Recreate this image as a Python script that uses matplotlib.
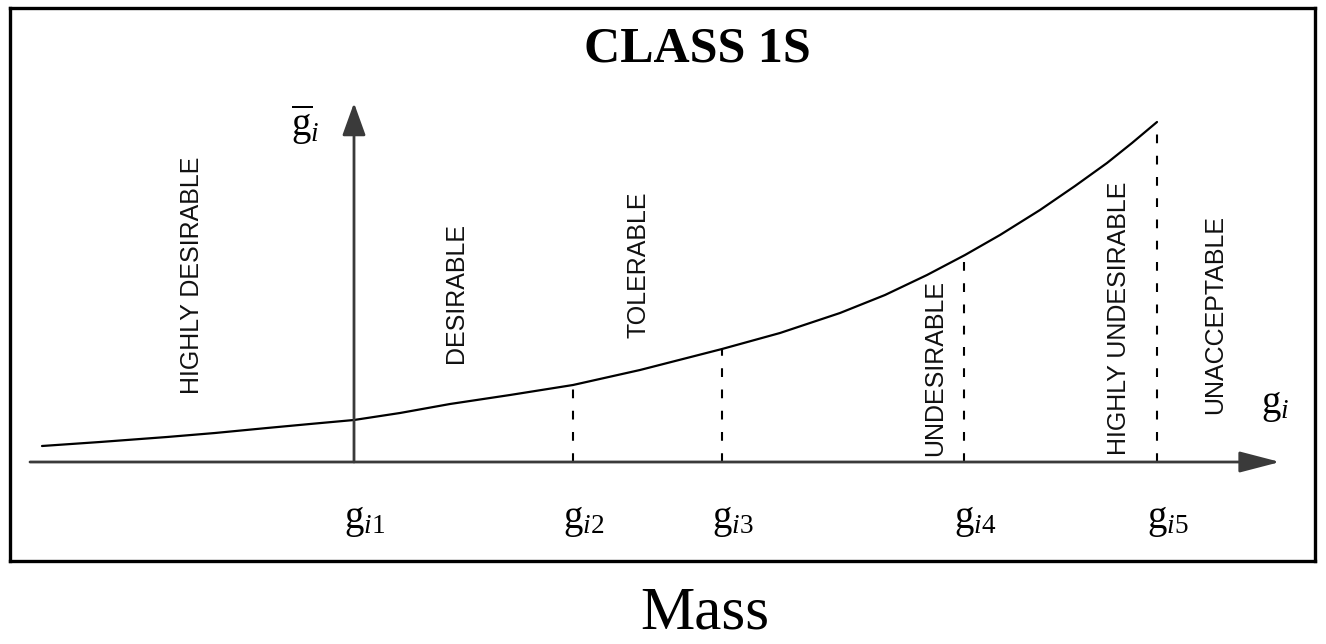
import numpy as np
import matplotlib.pyplot as plt
from matplotlib import rcParams

# ==========================
# DATA (mass scale along x, preference height above the mass axis)
# ==========================
curve_mass = [42, 100, 167, 215, 267, 310, 354, 400, 450, 510, 573, 640, 722,
              780, 840, 885, 927, 965, 1000, 1040, 1075, 1107, 1132, 1157]
curve_pref = [16, 20, 25, 29, 34, 38, 42, 49, 58, 67, 77, 92, 113,
              129, 149, 167, 187, 207, 227, 252, 276, 299, 319, 340]

thresholds = [354, 573, 722, 964, 1157]
threshold_labels = [r"$\mathrm{g}_{\mathit{i}\mathrm{%d}}$" % k for k in range(1, 6)]

zones = ["HIGHLY DESIRABLE", "DESIRABLE", "TOLERABLE",
         "UNDESIRABLE", "HIGHLY UNDESIRABLE", "UNACCEPTABLE"]
zone_pos = [(192, 187), (456, 169), (638, 197), (935, 94), (1119, 144), (1215, 147)]

title = "CLASS 1S"
xlabel = "Mass"

# ==========================
# FONT SETTINGS
# ==========================
rcParams["mathtext.fontset"] = "custom"
rcParams["mathtext.rm"] = "Liberation Serif"
rcParams["mathtext.it"] = "Liberation Serif:italic"
SERIF = "Liberation Serif"
SANS = "Liberation Sans"

fig = plt.figure(figsize=(13.26, 6.44), dpi=100)
ax = fig.add_axes([10 / 1326, 1 - 561 / 644, 1305 / 1326, 553 / 644])
ax.set_xlim(10, 1315)
ax.set_ylim(-99, 454)
ax.set_xticks([])
ax.set_yticks([])
for s in ax.spines.values():
    s.set_linewidth(2.4)
    s.set_color("black")

axis_color = "#3a3a3a"

# mass axis
ax.annotate("", xy=(1280, 0), xytext=(30, 0),
            arrowprops=dict(arrowstyle="-|>,head_length=2.5,head_width=0.65",
                            mutation_scale=10, lw=2.0, color=axis_color,
                            shrinkA=0, shrinkB=0))
# preference axis
ax.annotate("", xy=(thresholds[0], 359), xytext=(thresholds[0], 0),
            arrowprops=dict(arrowstyle="-|>,head_length=2.0,head_width=0.72",
                            mutation_scale=10, lw=2.0, color=axis_color,
                            shrinkA=0, shrinkB=0))

# preference curve
ax.plot(curve_mass, curve_pref, color="black", lw=1.6,
        solid_capstyle="round", solid_joinstyle="round")

# dashed boundaries from the curve down to the mass axis
tops = np.interp(thresholds, curve_mass, curve_pref)
for xv, top in zip(thresholds[1:], tops[1:]):
    ax.plot([xv, xv], [0, top], color="black", lw=1.5,
            linestyle=(0, (4.2, 6.0)))

# range names
for name, (xp, yp) in zip(zones, zone_pos):
    ax.text(xp, yp, name, rotation=90, ha="center", va="center",
            fontsize=18, family=SANS, color="#111111")

# boundary labels
for xv, lab in zip(thresholds, threshold_labels):
    ax.text(xv - 10, -58, lab, ha="left", va="center", fontsize=28, color="black")

# axis symbols
ax.text(305, 337, r"$\overline{\mathrm{g}}_{\mathit{i}}$", ha="center", va="center",
        fontsize=28)
ax.text(1275, 57, r"$\mathrm{g}_{\mathit{i}}$", ha="center", va="center", fontsize=28)

ax.text(697, 413, title, ha="center", va="center", fontsize=36,
        family=SERIF, fontweight="bold")

fig.text(705 / 1326, 1 - 614 / 644, xlabel, ha="center", va="center",
         fontsize=44, family=SERIF)

fig.savefig("out.png", dpi=100)
